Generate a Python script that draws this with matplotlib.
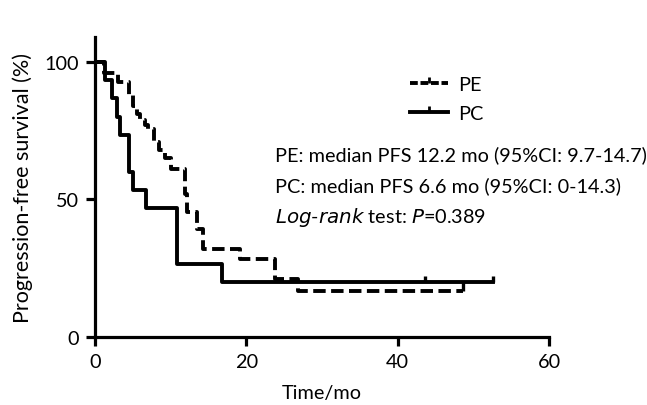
import matplotlib
matplotlib.use("Agg")
import matplotlib.pyplot as plt
from matplotlib.lines import Line2D

plt.rcParams['font.family'] = ['Lato', 'DejaVu Sans']

# Kaplan-Meier steps (time in months, survival in %)
pe_time = [0, 1.2, 3.0, 4.5, 5.0, 5.6, 6.0, 6.6, 7.0, 7.8, 8.5, 9.2, 10.0, 11.9, 12.2, 13.5, 14.3, 19.1, 23.8, 26.8, 48.6]
pe_surv = [100, 96, 92.7, 88, 84, 81, 79, 77, 75.5, 71, 68, 65, 61, 52, 45.5, 39.3, 32, 28.4, 21, 16.8, 16.8]
pe_cens_t = [48.6]
pe_cens_s = [16.8]

pc_time = [0, 1.3, 2.2, 2.9, 3.3, 4.5, 5.0, 6.8, 10.8, 16.8, 52.6]
pc_surv = [100, 93.3, 86.7, 80, 73.3, 60, 53.3, 46.7, 26.7, 20, 20]
pc_cens_t = [43.6, 52.6]
pc_cens_s = [20, 20]

x_ticks = [0, 20, 40, 60]
y_ticks = [0, 50, 100]

stats_lines = [
    "PE: median PFS 12.2 mo (95%CI: 9.7-14.7)",
    "PC: median PFS 6.6 mo (95%CI: 0-14.3)",
]

fs = 14.3

fig = plt.figure(figsize=(6.47, 4.06), dpi=100)
ax = fig.add_axes([95 / 647, 68 / 406, 454 / 647, 300 / 406])

lw = 2.8
pe_line, = ax.step(pe_time, pe_surv, where='post', color='black', lw=lw,
                   dashes=(3.2, 1.4))
ax.plot(pe_cens_t, pe_cens_s, ls='none', marker=2, ms=7, mew=2.4, color='black')
pc_line, = ax.step(pc_time, pc_surv, where='post', color='black', lw=lw)
ax.plot(pc_cens_t, pc_cens_s, ls='none', marker=2, ms=4, mew=2.4, color='black')

ax.set_xlim(0, 60)
ax.set_ylim(0, 109)
ax.set_xticks(x_ticks)
ax.set_yticks(y_ticks)
for side in ['top', 'right']:
    ax.spines[side].set_visible(False)
for side in ['left', 'bottom']:
    ax.spines[side].set_linewidth(2.3)
ax.tick_params(direction='out', length=6.5, width=2.3, labelsize=fs, pad=5)

ax.set_xlabel('Time/mo', fontsize=fs, labelpad=10)
ax.set_ylabel('Progression-free survival (%)', fontsize=15.5, labelpad=8)

# legend with censor tick in the middle of each handle
h_pe = Line2D([], [], color='black', lw=lw, dashes=(2.0, 0.7), marker=2, ms=4, mew=2)
h_pc = Line2D([], [], color='black', lw=lw, marker=2, ms=4, mew=2)
ax.legend([h_pe, h_pc], ['PE', 'PC'], loc='upper left', bbox_to_anchor=(0.655, 0.93),
          frameon=False, fontsize=fs, handlelength=1.9, handletextpad=0.5,
          labelspacing=0.62, numpoints=1)

tx = (275 - 95) / 454
ax.text(tx, 0.61, stats_lines[0], transform=ax.transAxes, fontsize=fs, va='center')
ax.text(tx, 0.507, stats_lines[1], transform=ax.transAxes, fontsize=fs, va='center')
ax.text(tx, 0.403, r'$\it{Log}$' + '-' + r'$\it{rank}$' + ' test: ' + r'$\it{P}$' + '=0.389',
        transform=ax.transAxes, fontsize=fs, va='center')

fig.savefig('out.png', dpi=100)
